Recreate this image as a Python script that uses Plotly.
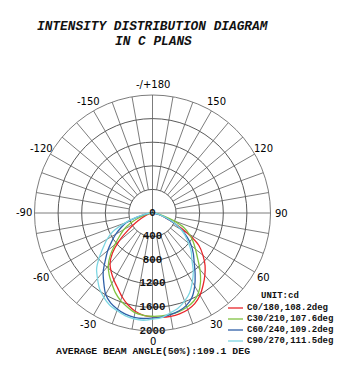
import numpy as np
import plotly.graph_objects as go

# ---- data ----
GAMMA = list(range(-90, 95, 5))  # gamma angle, degrees (negative = left half-plane)

C0_180 = [0, 10, 35, 70, 120, 200, 330, 500, 740, 960, 1120, 1220, 1310, 1400, 1510, 1610, 1690, 1740,
          1760,
          1775, 1780, 1770, 1745, 1695, 1610, 1495, 1380, 1260, 1117, 960, 680, 420, 240, 130, 60, 20, 0]
C30_210 = [0, 20, 60, 140, 260, 420, 560, 680, 830, 1010, 1165, 1280, 1380, 1490, 1580, 1650, 1715, 1740,
           1750,
           1750, 1745, 1730, 1700, 1650, 1560, 1420, 1250, 1080, 950, 840, 720, 590, 380, 200, 90, 30, 0]
C60_240 = [0, 40, 130, 280, 470, 590, 720, 845, 990, 1130, 1300, 1440, 1590, 1680, 1735, 1775, 1795, 1795,
           1780,
           1770, 1750, 1720, 1670, 1580, 1430, 1260, 1100, 980, 860, 720, 570, 400, 240, 130, 60, 20, 0]
C90_270 = [0, 50, 150, 300, 500, 740, 890, 1020, 1180, 1340, 1450, 1565, 1650, 1720, 1760, 1800, 1820, 1825,
           1800,
           1780, 1720, 1670, 1590, 1490, 1350, 1205, 1040, 930, 800, 680, 560, 420, 270, 150, 70, 20, 0]

SERIES_NAMES = ["C0/180,108.2deg", "C30/210,107.6deg", "C60/240,109.2deg", "C90/270,111.5deg"]
SERIES_COLORS = ["#e8262b", "#80c241", "#2f5fa8", "#7dd6e2"]

RING_VALUES = [400, 800, 1200, 1600, 2000]
RING_LABELS = ["0", "400", "800", "1200", "1600", "2000"]
ANGLE_TICKS = [0, 30, 60, 90, 120, 150, 180, 210, 240, 270, 300, 330]
ANGLE_LABELS = ["0", "30", "60", "90", "120", "150", "-/+180", "-150", "-120", "-90", "-60", "-30"]
R_MAX = 2000

GRID = "#5a5a5a"

fig = go.Figure()

# ---- custom spoke grid: every 10 deg from the first ring outward, full lines on the axes ----
sr, st = [], []
for a in range(0, 360, 10):
    r0 = 0 if a % 90 == 0 else RING_VALUES[0]
    sr += [r0, R_MAX, None]
    st += [a, a, None]
fig.add_trace(go.Scatterpolar(r=sr, theta=st, mode="lines", line=dict(color=GRID, width=0.8),
                              hoverinfo="skip", showlegend=False))

# ---- data curves ----
for vals, name, col in zip([C0_180, C30_210, C60_240, C90_270], SERIES_NAMES, SERIES_COLORS):
    fig.add_trace(go.Scatterpolar(r=vals, theta=GAMMA, mode="lines", name=name,
                                  line=dict(color=col, width=1.3, shape="spline", smoothing=0.8),
                                  showlegend=False))

# ---- radial labels along the downward axis ----
fig.add_trace(go.Scatterpolar(r=[0] + RING_VALUES, theta=[0] * 6, mode="text",
                              text=["<b>" + t + "</b>" for t in RING_LABELS],
                              textposition="middle center",
                              textfont=dict(family="Liberation Mono", size=10.8, color="#111"),
                              cliponaxis=False, hoverinfo="skip", showlegend=False))

W, H = 352, 371
cx, cy, R = 152.5, 213.0, 118.0
fig.update_layout(
    width=W, height=H, margin=dict(l=0, r=0, t=0, b=0),
    paper_bgcolor="white", plot_bgcolor="white", showlegend=False,
    polar=dict(
        domain=dict(x=[(cx - R) / W, (cx + R) / W], y=[1 - (cy + R) / H, 1 - (cy - R) / H]),
        bgcolor="white",
        angularaxis=dict(rotation=270, direction="counterclockwise", tickmode="array",
                         tickvals=ANGLE_TICKS, showticklabels=False, ticks="", showgrid=False,
                         showline=True, linecolor=GRID, linewidth=0.8),
        radialaxis=dict(range=[0, R_MAX], tickmode="array", tickvals=RING_VALUES, showticklabels=False,
                        ticks="", showline=False, showgrid=True, gridcolor=GRID, gridwidth=0.8),
    ),
)


def note(x, y, text, size, xanchor="center", family="Liberation Mono", color="#111"):
    fig.add_annotation(x=x / W, y=1 - y / H, xref="paper", yref="paper", showarrow=False,
                       xanchor=xanchor, yanchor="middle", text=text,
                       font=dict(family=family, size=size, color=color))


# ---- angular labels just outside the outer ring ----
LABEL_PX = 128.5
for a, lab in zip(ANGLE_TICKS, ANGLE_LABELS):
    t = np.radians(a)
    note(cx + LABEL_PX * np.sin(t), cy + LABEL_PX * np.cos(t), lab, 10, family="DejaVu Sans", color="#000")

# ---- titles ----
note(153, 26, "<b><i>INTENSITY DISTRIBUTION DIAGRAM</i></b>", 12.8)
note(153, 41, "<b><i>IN C PLANS</i></b>", 12.8)
note(153, 351, "<b>AVERAGE BEAM ANGLE(50%):109.1 DEG</b>", 9.8)

# ---- legend ----
note(259, 296, "<b>UNIT:cd</b>", 9, xanchor="left")
for i, (name, col) in enumerate(zip(SERIES_NAMES, SERIES_COLORS)):
    yy = 308 + 11 * i
    fig.add_shape(type="line", xref="paper", yref="paper", x0=228 / W, x1=243 / W,
                  y0=1 - yy / H, y1=1 - yy / H, line=dict(color=col, width=1.3))
    note(245, yy, "<b>" + name + "</b>", 9, xanchor="left")

fig.write_html("out.html")
